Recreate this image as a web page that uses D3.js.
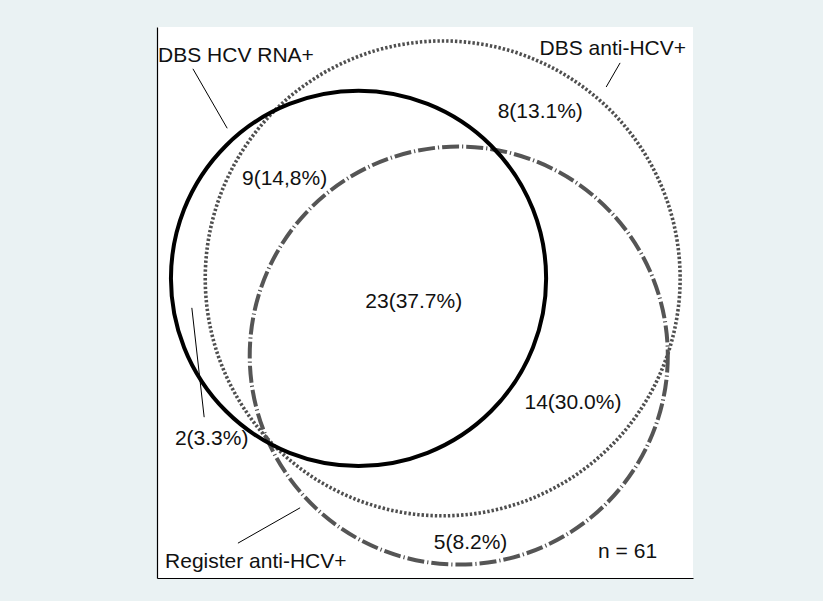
<!DOCTYPE html>
<html>
<head>
<meta charset="utf-8">
<script src="https://cdn.jsdelivr.net/npm/d3@7"></script>
<style>
  html, body { margin: 0; padding: 0; background: #EAF2F3; }
  svg { display: block; }
</style>
</head>
<body>
<svg id="chart" width="823" height="601"></svg>
<script>
// ---- data (in plot units) ----
const setNames   = ["DBS anti-HCV+", "Register anti-HCV+", "DBS HCV RNA+"];
const setCx      = [53.3, 56.3, 37.6];
const setCy      = [55.9, 41.5, 55.9];
const setR       = [44.3, 39.0, 35.0];

const regionLabels = ["9(14,8%)", "8(13.1%)", "23(37.7%)", "14(30.0%)", "2(3.3%)", "5(8.2%)", "n = 61"];
const regionX      = [23.8, 71.5, 47.9, 77.6, 10.2, 58.5, 87.8];
const regionY      = [73.3, 85.8, 50.4, 31.5, 24.8, 5.4, 3.7];

const nameX      = [98.7, 1.5, 0.2];
const nameY      = [97.6, 1.9, 96.3];
const nameAnchor = ["end", "start", "start"];

const leaderX1 = [86.4, 15.1, 6.7, 6.5];
const leaderY1 = [96.1, 6.5, 95.0, 50.4];
const leaderX2 = [83.8, 26.7, 13.1, 8.8];
const leaderY2 = [91.6, 13.1, 83.9, 30.0];

// ---- layout ----
const W = 823, H = 601;
const plot = { left: 157, right: 693, top: 27, bottom: 578 };
const k = (plot.right - plot.left) / 100;
const yMax = (plot.bottom - plot.top) / k;

const x = d3.scaleLinear().domain([0, 100]).range([plot.left, plot.right]);
const y = d3.scaleLinear().domain([0, yMax]).range([plot.bottom, plot.top]);
const rs = d3.scaleLinear().domain([0, 100]).range([0, plot.right - plot.left]);

const svg = d3.select("#chart");
svg.append("rect").attr("width", W).attr("height", H).attr("fill", "#EAF2F3");
svg.append("rect")
  .attr("x", plot.left).attr("y", plot.top)
  .attr("width", plot.right - plot.left).attr("height", plot.bottom - plot.top)
  .attr("fill", "#ffffff");

const styles = [
  { stroke: "#4f4f4f", width: 3.6, dash: "2.4,2" },
  { stroke: "#555555", width: 4, dash: "17,3,1.2,3" },
  { stroke: "#000000", width: 4, dash: null }
];

const sets = setNames.map((n, i) => ({ name: n, cx: setCx[i], cy: setCy[i], r: setR[i], s: styles[i] }));

svg.append("g").selectAll("circle").data(sets).join("circle")
  .attr("cx", d => x(d.cx))
  .attr("cy", d => y(d.cy))
  .attr("r", d => rs(d.r))
  .attr("fill", "none")
  .attr("stroke", d => d.s.stroke)
  .attr("stroke-width", d => d.s.width)
  .attr("stroke-dasharray", d => d.s.dash);

// leader lines
const leaders = leaderX1.map((v, i) => ({ x1: v, y1: leaderY1[i], x2: leaderX2[i], y2: leaderY2[i] }));
svg.append("g").selectAll("line").data(leaders).join("line")
  .attr("x1", d => x(d.x1)).attr("y1", d => y(d.y1))
  .attr("x2", d => x(d.x2)).attr("y2", d => y(d.y2))
  .attr("stroke", "#000").attr("stroke-width", 1);

const font = "'Liberation Sans', Arial, sans-serif";

// set names
svg.append("g").selectAll("text").data(setNames).join("text")
  .attr("x", (d, i) => x(nameX[i]))
  .attr("y", (d, i) => y(nameY[i]))
  .attr("text-anchor", (d, i) => nameAnchor[i])
  .attr("font-family", font).attr("font-size", 21).attr("fill", "#111")
  .text(d => d);

// region labels
svg.append("g").selectAll("text").data(regionLabels).join("text")
  .attr("x", (d, i) => x(regionX[i]))
  .attr("y", (d, i) => y(regionY[i]))
  .attr("text-anchor", "middle")
  .attr("font-family", font).attr("font-size", 21).attr("fill", "#111")
  .text(d => d);

// axes (lines only)
svg.append("g").attr("transform", `translate(${plot.left},0)`)
  .call(d3.axisLeft(y).tickValues([]).tickSizeOuter(0))
  .select(".domain").attr("stroke", "#000").attr("stroke-width", 1.2);
svg.append("g").attr("transform", `translate(0,${plot.bottom})`)
  .call(d3.axisBottom(x).tickValues([]).tickSizeOuter(0))
  .select(".domain").attr("stroke", "#000").attr("stroke-width", 1.2);
</script>
</body>
</html>
